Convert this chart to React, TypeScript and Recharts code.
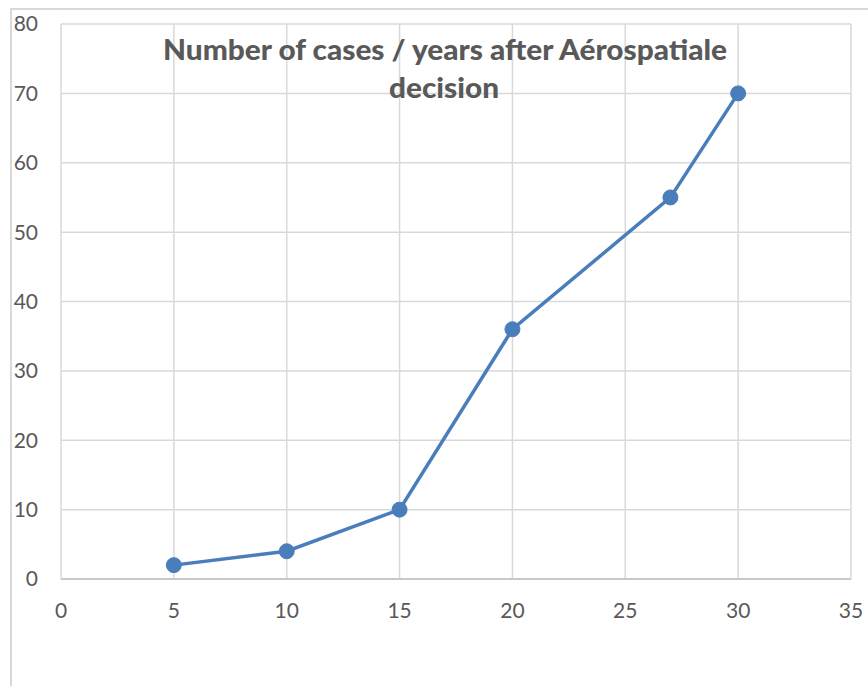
import React from "react";
import { LineChart, Line, XAxis, YAxis, CartesianGrid } from "recharts";

const years = [5, 10, 15, 20, 27, 30];
const cases = [2, 4, 10, 36, 55, 70];
const xTicks = [0, 5, 10, 15, 20, 25, 30, 35];
const yTicks = [0, 10, 20, 30, 40, 50, 60, 70, 80];
const titleLines = ["Number of cases / years after Aérospatiale", "decision"];

const data = years.map((x, i) => ({ x, y: cases[i] }));

const FONT = "Lato, 'Open Sans', sans-serif";

export default function App() {
  return (
    <div style={{ position: "absolute", left: 0, top: 0, width: 868, height: 686, background: "#fff", overflow: "hidden" }}>
      <div
        style={{
          position: "absolute",
          left: 10,
          top: 8,
          width: 900,
          height: 800,
          borderTop: "2px solid #d9d9d9",
          borderLeft: "2px solid #d9d9d9",
        }}
      />
      <div style={{ position: "absolute", left: 0, top: 0 }}>
        <LineChart width={868} height={686} data={data} margin={{ top: 24, right: 17, bottom: 77, left: 0 }}>
          <CartesianGrid stroke="#d9d9d9" strokeWidth={1.5} />
          <XAxis
            type="number"
            dataKey="x"
            domain={[0, 35]}
            ticks={xTicks}
            interval={0}
            height={30}
            tickLine={false}
            tickSize={0}
            tickMargin={24}
            axisLine={{ stroke: "#bfbfbf", strokeWidth: 1.5 }}
            tick={{ fill: "#595959", fontSize: 21, fontFamily: FONT }}
          />
          <YAxis
            type="number"
            domain={[0, 80]}
            ticks={yTicks}
            interval={0}
            width={61}
            tickLine={false}
            tickSize={0}
            tickMargin={23}
            axisLine={false}
            tick={{ fill: "#595959", fontSize: 21, fontFamily: FONT }}
          />
          <Line
            type="linear"
            dataKey="y"
            stroke="#4a7ebb"
            strokeWidth={3.5}
            dot={{ r: 7.5, fill: "#4a7ebb", stroke: "#4a7ebb", strokeWidth: 1 }}
            isAnimationActive={false}
          />
        </LineChart>
      </div>
      <svg width={868} height={686} style={{ position: "absolute", left: 0, top: 0, pointerEvents: "none" }}>
        <text
          x={445}
          y={60}
          textAnchor="middle"
          fill="#595959"
          fontFamily={FONT}
          fontWeight={900}
          fontSize={29}
          textLength={564}
          lengthAdjust="spacingAndGlyphs"
        >
          {titleLines[0]}
        </text>
        <text
          x={444}
          y={98}
          textAnchor="middle"
          fill="#595959"
          fontFamily={FONT}
          fontWeight={900}
          fontSize={29}
          textLength={110}
          lengthAdjust="spacingAndGlyphs"
        >
          {titleLines[1]}
        </text>
      </svg>
    </div>
  );
}
